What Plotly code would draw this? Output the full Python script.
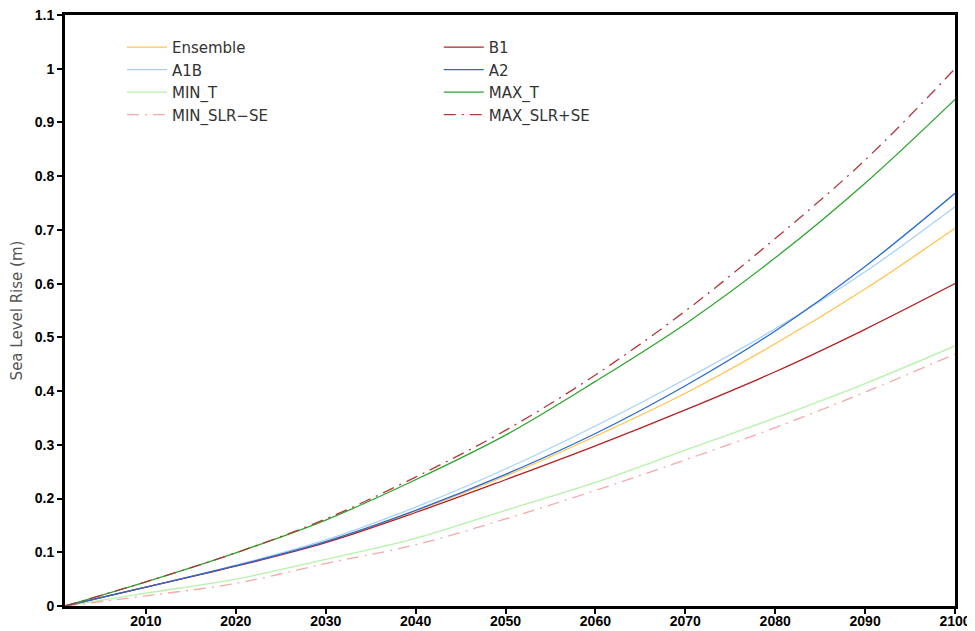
import plotly.graph_objects as go

years = [2001, 2010, 2020, 2030, 2040, 2050, 2060, 2070, 2080, 2090, 2100]

ensemble   = [0.0, 0.035, 0.075, 0.120, 0.177, 0.242, 0.316, 0.396, 0.488, 0.590, 0.703]
b1         = [0.0, 0.035, 0.074, 0.118, 0.174, 0.235, 0.298, 0.365, 0.436, 0.515, 0.600]
a1b        = [0.0, 0.035, 0.076, 0.123, 0.184, 0.255, 0.335, 0.422, 0.516, 0.622, 0.743]
a2         = [0.0, 0.035, 0.075, 0.120, 0.178, 0.245, 0.321, 0.410, 0.512, 0.632, 0.768]
min_t      = [0.0, 0.024, 0.050, 0.087, 0.126, 0.178, 0.230, 0.290, 0.350, 0.414, 0.484]
max_t      = [0.0, 0.045, 0.099, 0.160, 0.235, 0.318, 0.418, 0.525, 0.648, 0.787, 0.943]
min_slr_se = [0.0, 0.019, 0.042, 0.079, 0.114, 0.162, 0.215, 0.272, 0.332, 0.398, 0.469]
max_slr_se = [0.0, 0.045, 0.099, 0.162, 0.240, 0.327, 0.430, 0.549, 0.684, 0.830, 1.000]

x_ticks = [2010, 2020, 2030, 2040, 2050, 2060, 2070, 2080, 2090, 2100]
y_ticks = [0, 0.1, 0.2, 0.3, 0.4, 0.5, 0.6, 0.7, 0.8, 0.9, 1.0, 1.1]
y_tick_text = ["0", "0.1", "0.2", "0.3", "0.4", "0.5", "0.6", "0.7", "0.8", "0.9", "1", "1.1"]

series = [
    ("Ensemble", ensemble, "#FFC34F", "solid", "legend"),
    ("A1B", a1b, "#A6D2F7", "solid", "legend"),
    ("MIN_T", min_t, "#B6F2AA", "solid", "legend"),
    ("MIN_SLR\u2212SE", min_slr_se, "#F7A9A9", "12px,6px,2px,6px", "legend"),
    ("B1", b1, "#B22222", "solid", "legend2"),
    ("A2", a2, "#2B6BD0", "solid", "legend2"),
    ("MAX_T", max_t, "#2EA52E", "solid", "legend2"),
    ("MAX_SLR+SE", max_slr_se, "#B33A3A", "12px,6px,2px,6px", "legend2"),
]

fig = go.Figure()
for name, vals, color, dash, leg in series:
    fig.add_trace(go.Scatter(
        x=years, y=vals, mode="lines", name=name,
        line=dict(color=color, width=1.3, dash=dash, shape="spline", smoothing=1.0),
        legend=leg,
    ))

legend_font = dict(family="DejaVu Sans", size=15, color="#333333")
fig.update_layout(
    width=975, height=631,
    margin=dict(l=57, r=28, t=7, b=33, autoexpand=False),
    plot_bgcolor="white", paper_bgcolor="white",
    legend=dict(x=0.064, y=0.973, xanchor="left", yanchor="top",
                font=legend_font, bgcolor="rgba(0,0,0,0)", tracegroupgap=0,
                itemwidth=40),
    legend2=dict(x=0.420, y=0.973, xanchor="left", yanchor="top",
                 font=legend_font, bgcolor="rgba(0,0,0,0)", tracegroupgap=0,
                 itemwidth=40),
    xaxis=dict(range=[2001, 2100], tickvals=x_ticks, automargin=False,
               showgrid=False, zeroline=False,
               showline=True, linecolor="black", linewidth=3, mirror=True,
               ticks="outside", ticklen=5, tickwidth=2, tickcolor="black",
               ticklabeloverflow="allow", ticklabelstandoff=-5,
               tickfont=dict(family="Liberation Sans", size=14,
                             color="black", weight="bold")),
    yaxis=dict(range=[0, 1.1], tickvals=y_ticks, ticktext=y_tick_text, automargin=False,
               showgrid=False, zeroline=False,
               showline=True, linecolor="black", linewidth=3, mirror=True,
               ticks="outside", ticklen=5, tickwidth=2, tickcolor="black",
               ticklabeloverflow="allow",
               tickfont=dict(family="Liberation Sans", size=14,
                             color="black", weight="bold"),
               title=dict(text="Sea Level Rise (m)",
                          font=dict(family="DejaVu Sans", size=15, color="#555555"))),
)

fig.write_html("out.html")
